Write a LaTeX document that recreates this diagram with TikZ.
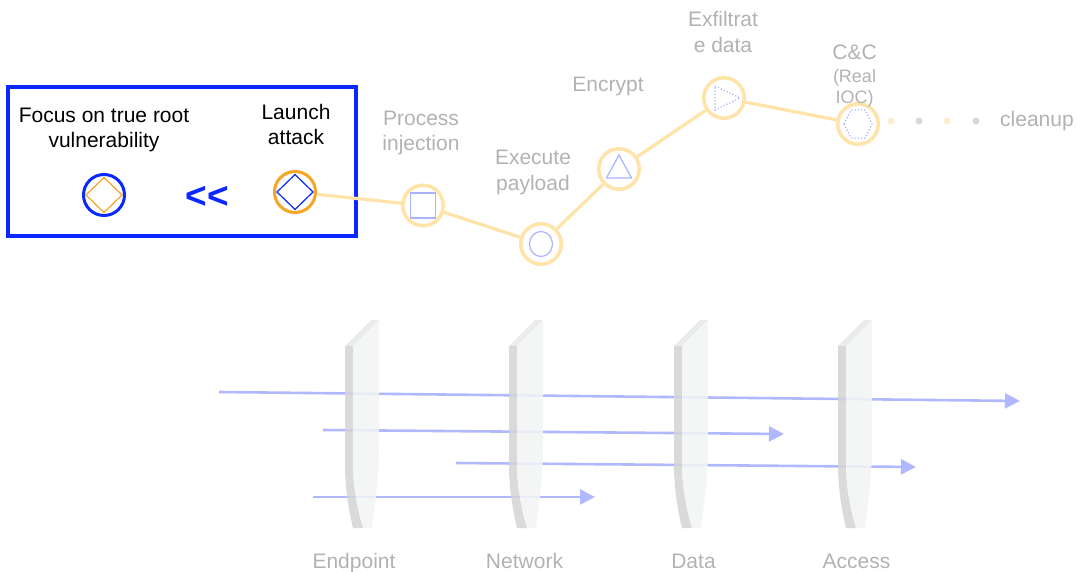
\documentclass[tikz,border=0pt]{standalone}
\usepackage{fontspec}
\setmainfont{Liberation Sans}
\usetikzlibrary{arrows.meta}
\definecolor{boxblue}{RGB}{10,40,255}
\definecolor{atkorange}{RGB}{245,166,35}
\definecolor{chainorange}{RGB}{255,227,168}
\definecolor{glyphblue}{RGB}{168,180,255}
\definecolor{labelgray}{RGB}{178,178,178}
\definecolor{dotgray}{RGB}{216,216,216}
\definecolor{shieldface}{RGB}{243,244,244}
\definecolor{shieldside}{RGB}{212,212,212}
\definecolor{shieldtop}{RGB}{230,231,231}
\definecolor{flowblue}{RGB}{176,184,255}
\tikzset{
    stage/.style={circle,draw=chainorange,line width=3.5pt,fill=white,minimum size=40.5pt,inner sep=0pt},
    chain/.style={draw=chainorange,line width=3.2pt},
    glyph/.style={draw=glyphblue,line width=1.2pt},
    steplabel/.style={text=labelgray,font=\fontsize{21}{25.5}\selectfont,align=center,inner sep=0pt},
    boxlabel/.style={text=black,font=\fontsize{21}{25}\selectfont,align=center,inner sep=0pt},
    flow/.style={draw=flowblue,line width=2.6pt,-{Triangle[length=15pt,width=15pt]}},
    chaindot/.style={circle,inner sep=0pt,minimum size=7pt},
    shield/.pic={
        \fill[shieldtop,opacity=0.85] (0,26) -- (26,0) -- (34,0) -- (8,26) -- cycle;
        \fill[shieldside,opacity=0.85] (0,26) -- (8,26) -- (8,145) .. controls (8,165) and (12,188) .. (18,208) -- (8,208) .. controls (3,188) and (0,165) .. (0,145) -- cycle;
        \fill[shieldface,opacity=0.88] (8,26) -- (34,0) -- (34,125) .. controls (34,160) and (30,185) .. (27,208) -- (18,208) .. controls (12,188) and (8,165) .. (8,145) -- cycle;
    },
}

\begin{document}
\begin{tikzpicture}[x=1pt,y=-1pt]
\useasboundingbox (0,0) rectangle (1077,572);
\coordinate (f1s) at (219,392); \coordinate (f1e) at (1020,401);
\coordinate (f2s) at (323,430); \coordinate (f2e) at (784,434);
\coordinate (f3s) at (456,463); \coordinate (f3e) at (916,467);
\coordinate (f4s) at (313,497); \coordinate (f4e) at (595,497);
\draw[flow] (f1s) -- (f1e);
\draw[flow] (f2s) -- (f2e);
\draw[flow] (f3s) -- (f3e);
\draw[flow] (f4s) -- (f4e);
\pic at (345,320) {shield};
\pic at (509,320) {shield};
\pic at (674,320) {shield};
\pic at (838,320) {shield};
\node[steplabel,anchor=base] (endpoint) at (354,568) {Endpoint};
\node[steplabel,anchor=base] (network) at (524.5,568) {Network};
\node[steplabel,anchor=base] (data) at (693.5,568) {Data};
\node[steplabel,anchor=base] (access) at (856.5,568) {Access};

\draw[boxblue,line width=4pt] (8,87) rectangle (356,236);
\node[circle,draw=boxblue,line width=3pt,minimum size=41pt,inner sep=0pt] (root) at (104,195) {};
\node[circle,draw=atkorange,line width=3pt,fill=white,minimum size=41pt,inner sep=0pt] (launch) at (295,192) {};
\draw[atkorange,line width=1.2pt] ([shift={(-18,0)}]root.center) -- ++(18,-17.5) -- ++(18,17.5) -- ++(-18,17.5) -- cycle;
\draw[boxblue,line width=1.2pt] ([shift={(-18,0)}]launch.center) -- ++(18,-17.5) -- ++(18,17.5) -- ++(-18,17.5) -- cycle;
\node[boxlabel] (rootlabel) at (104,130) {Focus on true root\\vulnerability};
\node[boxlabel] (launchlabel) at (296,124.5) {Launch\\attack};
\node[text=boxblue,font=\fontsize{37}{40}\selectfont\bfseries,inner sep=0pt] (than) at (207,197) {<\kern0pt<};

\node[stage] (proc) at (423,205.5) {};
\node[stage] (exec) at (541,244) {};
\node[stage] (encr) at (619,169) {};
\node[stage] (exfil) at (724,98) {};
\node[stage] (cc) at (858,124) {};
\draw[chain] (launch) -- (proc);
\draw[chain] (proc) -- (exec);
\draw[chain] (exec) -- (encr);
\draw[chain] (encr) -- (exfil);
\draw[chain] (exfil) -- (cc);
\draw[glyph] ([shift={(-12.5,-12.5)}]proc.center) rectangle ++(25,25);
\draw[glyph] (exec.center) ellipse (11.5 and 12.5);
\draw[glyph] ([shift={(0,-14)}]encr.center) -- ++(12.5,23) -- ++(-25,0) -- cycle;
\draw[glyph,dotted] ([shift={(-9,-12)}]exfil.center) -- ++(25,12) -- ++(-25,12) -- cycle;
\draw[glyph,dotted] ([shift={(-14,0)}]cc.center) -- ++(7,-14) -- ++(14,0) -- ++(7,14) -- ++(-7,14) -- ++(-14,0) -- cycle;
\node[chaindot,fill=chainorange!60] (d1) at (891,121) {};
\node[chaindot,fill=dotgray] (d2) at (919,121) {};
\node[chaindot,fill=chainorange!60] (d3) at (947,121) {};
\node[chaindot,fill=dotgray] (d4) at (976,121) {};

\node[steplabel] (proclabel) at (421,133) {Process\\injection};
\node[steplabel] (execlabel) at (533,172.5) {Execute\\payload};
\node[steplabel,anchor=base] (encrlabel) at (608,92) {Encrypt};
\node[steplabel] (exfillabel) at (723,32) {Exfiltrat\\e data};
\node[steplabel,anchor=base] (cclabel) at (854.5,60) {C\&C};
\node[steplabel,font=\fontsize{18}{21.5}\selectfont,anchor=base] (ioclabel) at (854.5,82.5) {(Real};
\node[steplabel,font=\fontsize{18}{21.5}\selectfont,anchor=base] (ioclabel2) at (854.5,104) {IOC)};
\node[steplabel,anchor=base] (cleanup) at (1037,127) {cleanup};
\end{tikzpicture}
\end{document}
